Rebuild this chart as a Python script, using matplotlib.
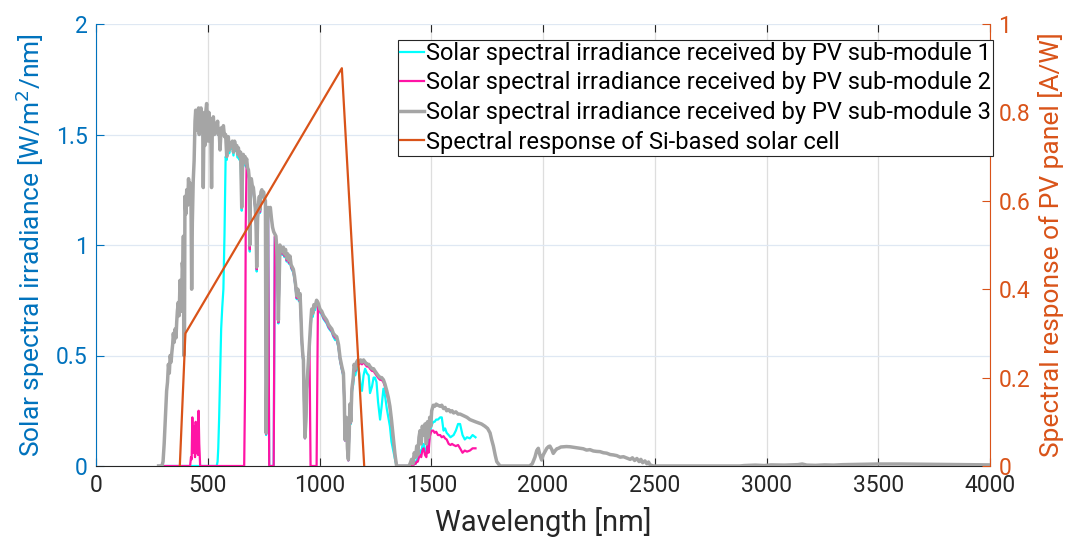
import matplotlib
matplotlib.use("Agg")
import matplotlib.pyplot as plt
import numpy as np

plt.rcParams["font.family"] = ["Roboto", "DejaVu Sans"]

# ---------------------------------------------------------------------------
# Spectral data (wavelength in nm, irradiance in W/m^2/nm)
# ---------------------------------------------------------------------------
wavelength_nm = [
    280, 295, 300, 305, 309, 313, 316, 320, 324, 328,
    332, 336, 339, 343, 346, 350, 354, 358, 361, 364,
    368, 372, 376, 380, 383, 386, 389, 391, 393, 396,
    398, 402, 406, 410, 414,
    418, 421, 425, 428, 431, 435, 439, 443, 446, 450, 453, 456, 459, 462,
    466, 470, 474, 477, 480, 483, 487, 491, 495, 498,
    502, 505, 509, 513, 517, 520, 525, 530, 535, 540,
    544, 547, 551, 555, 560, 565, 570, 575, 580, 585,
    588, 592, 596, 600, 605, 610, 615, 620, 625, 630,
    634, 637, 642, 647, 652, 656, 659, 663,
    667, 670, 674, 678, 682, 686, 688, 691, 695, 699,
    704, 708, 712, 716, 719, 723, 727, 731, 734, 738,
    742, 746, 750, 754, 758, 761, 764, 767, 770,
    775, 780, 785, 790, 795,
    800, 805, 808, 812, 816, 820, 823, 828, 833, 838,
    843, 848, 853, 858, 863, 868, 873, 878, 883, 888,
    893, 898, 903, 908, 913, 917, 920, 924, 928, 931,
    935, 939, 943, 947, 950, 955,
    960, 965, 970, 975, 980, 987,
    993, 1002, 1010, 1018, 1025, 1032, 1040, 1047, 1055, 1062,
    1070, 1077, 1085, 1092, 1100, 1107, 1111, 1114, 1120, 1125,
    1129, 1133, 1136, 1140, 1145, 1151, 1155, 1160, 1166, 1172,
    1178, 1184, 1190, 1197, 1204, 1212, 1220, 1226, 1235, 1242,
    1248, 1255, 1262, 1271, 1278, 1286, 1293, 1301, 1308, 1315,
    1322, 1330, 1338, 1345,
    1400, 1405, 1412, 1418, 1424, 1430, 1435, 1440, 1445, 1450,
    1455, 1460, 1466, 1472, 1478, 1483, 1488, 1493, 1498,
    1502, 1509, 1515, 1522, 1530, 1540, 1547, 1555, 1562, 1569,
    1578, 1586, 1593, 1600, 1610, 1620, 1629, 1640, 1650, 1660,
    1673, 1685, 1698,
]

module3_irr = [
    0.0, 0.0, 0.02, 0.10, 0.19, 0.28, 0.34, 0.38, 0.46, 0.42,
    0.50, 0.47, 0.51, 0.55, 0.60, 0.56, 0.62, 0.58, 0.65, 0.70,
    0.74, 0.68, 0.84, 0.78, 0.70, 0.92, 0.88, 1.04, 0.50, 0.62,
    1.22, 1.14, 1.25, 1.18, 1.30,
    1.22, 1.28, 1.20, 0.80, 1.10, 1.29, 1.38, 1.56, 1.61, 1.52, 1.60, 1.55, 1.62, 1.50,
    1.58, 1.62, 1.54, 1.60, 1.26, 1.55, 1.45, 1.60, 1.64, 1.56,
    1.47, 1.60, 1.52, 1.57, 1.26, 1.50, 1.58, 1.50, 1.55, 1.52,
    1.56, 1.50, 1.52, 1.43, 1.53, 1.50, 1.54, 1.49, 1.50, 1.40,
    1.48, 1.49, 1.43, 1.46, 1.45, 1.47, 1.42, 1.47, 1.44, 1.45,
    1.41, 1.44, 1.40, 1.42, 1.17, 1.36, 1.41, 1.38,
    1.40, 1.37, 1.39, 1.35, 1.34, 1.30, 1.00, 1.28, 1.30, 1.27,
    1.26, 1.22, 1.18, 1.10, 0.90, 1.12, 1.18, 1.22, 1.16, 1.24,
    1.25, 1.23, 1.24, 1.21, 1.20, 0.15, 0.40, 1.10, 1.17,
    1.16, 1.17, 1.12, 1.08, 1.06,
    1.05, 1.04, 1.00, 0.90, 0.66, 0.86, 1.00, 0.98, 0.97, 0.99,
    0.96, 0.98, 0.94, 0.96, 0.93, 0.95, 0.91, 0.90, 0.89, 0.86,
    0.82, 0.77, 0.80, 0.76, 0.78, 0.68, 0.59, 0.52, 0.48, 0.30,
    0.13, 0.20, 0.35, 0.42, 0.47, 0.56,
    0.64, 0.71, 0.69, 0.73, 0.72, 0.75,
    0.74, 0.71, 0.70, 0.68, 0.67, 0.66, 0.64, 0.63, 0.62, 0.60,
    0.59, 0.585, 0.55, 0.49, 0.45, 0.42, 0.30, 0.12, 0.22, 0.08,
    0.03, 0.15, 0.28, 0.20, 0.35, 0.40, 0.46, 0.44, 0.47, 0.48,
    0.47, 0.48, 0.47, 0.48, 0.47, 0.46, 0.46, 0.45, 0.44, 0.44,
    0.43, 0.42, 0.41, 0.40, 0.40, 0.39, 0.37, 0.34, 0.31, 0.27,
    0.21, 0.13, 0.05, 0.0,
    0.0, 0.01, 0.03, 0.01, 0.06, 0.04, 0.09, 0.05, 0.13, 0.16,
    0.10, 0.18, 0.14, 0.19, 0.10, 0.20, 0.13, 0.22, 0.18,
    0.25, 0.275, 0.27, 0.28, 0.275, 0.27, 0.275, 0.26, 0.265, 0.25,
    0.255, 0.245, 0.25, 0.24, 0.245, 0.235, 0.235, 0.23, 0.225, 0.22,
    0.21, 0.205, 0.20,
]

module1_irr = [
    0.0, 0.0, 0.0, 0.0, 0.0, 0.0, 0.0, 0.0, 0.0, 0.0,
    0.0, 0.0, 0.0, 0.0, 0.0, 0.0, 0.0, 0.0, 0.0, 0.0,
    0.0, 0.0, 0.0, 0.0, 0.0, 0.0, 0.0, 0.0, 0.0, 0.0,
    0.0, 0.0, 0.0, 0.0, 0.0,
    0.0, 0.0, 0.0, 0.0, 0.0, 0.0, 0.0, 0.0, 0.0, 0.0, 0.0, 0.0, 0.0, 0.0,
    0.0, 0.0, 0.0, 0.0, 0.0, 0.0, 0.0, 0.0, 0.0, 0.0,
    0.0, 0.0, 0.0, 0.0, 0.0, 0.0, 0.0, 0.0, 0.0, 0.0,
    0.02, 0.08, 0.22, 0.40, 0.62, 0.72, 0.80, 1.05, 1.40, 1.385,
    1.465, 1.475, 1.415, 1.445, 1.435, 1.455, 1.405, 1.455, 1.425, 1.435,
    1.395, 1.425, 1.385, 1.405, 1.155, 1.345, 1.395, 1.365,
    1.385, 1.355, 1.375, 1.335, 1.325, 1.285, 0.97, 1.265, 1.285, 1.255,
    1.245, 1.205, 1.165, 1.085, 0.88, 1.105, 1.165, 1.205, 1.145, 1.225,
    1.235, 1.215, 1.225, 1.195, 1.185, 0.14, 0.385, 1.085, 1.155,
    0.0, 0.0, 0.0, 0.0, 0.0,
    1.035, 1.025, 0.985, 0.885, 0.645, 0.845, 0.985, 0.965, 0.955, 0.975,
    0.945, 0.965, 0.925, 0.945, 0.915, 0.935, 0.895, 0.885, 0.875, 0.845,
    0.805, 0.755, 0.785, 0.745, 0.765, 0.665, 0.575, 0.505, 0.465, 0.29,
    0.125, 0.19, 0.335, 0.405, 0.455, 0.545,
    0.625, 0.695, 0.675, 0.715, 0.705, 0.735,
    0.725, 0.695, 0.685, 0.665, 0.655, 0.645, 0.625, 0.615, 0.605, 0.585,
    0.57, 0.57, 0.535, 0.475, 0.435, 0.405, 0.29, 0.115, 0.21, 0.07,
    0.025, 0.14, 0.265, 0.19, 0.335, 0.37, 0.42, 0.41, 0.44, 0.45,
    0.42, 0.36, 0.34, 0.41, 0.44, 0.42, 0.41, 0.33, 0.36, 0.40,
    0.40, 0.38, 0.29, 0.21, 0.27, 0.35, 0.32, 0.26, 0.22, 0.18,
    0.11, 0.07, 0.03, 0.0,
    0.0, 0.0, 0.01, 0.0, 0.02, 0.01, 0.03, 0.03, 0.05, 0.07,
    0.06, 0.09, 0.10, 0.07, 0.06, 0.11, 0.08, 0.16, 0.17,
    0.185, 0.20, 0.20, 0.21, 0.21, 0.22, 0.22, 0.16, 0.17, 0.15,
    0.14, 0.13, 0.135, 0.14, 0.16, 0.19, 0.19, 0.14, 0.12, 0.13,
    0.125, 0.14, 0.13,
]

module2_irr = [
    0.0, 0.0, 0.0, 0.0, 0.0, 0.0, 0.0, 0.0, 0.0, 0.0,
    0.0, 0.0, 0.0, 0.0, 0.0, 0.0, 0.0, 0.0, 0.0, 0.0,
    0.0, 0.0, 0.0, 0.0, 0.0, 0.0, 0.0, 0.0, 0.0, 0.0,
    0.0, 0.0, 0.0, 0.0, 0.0,
    0.0, 0.0, 0.04, 0.03, 0.22, 0.06, 0.18, 0.04, 0.20, 0.06, 0.14, 0.05, 0.25, 0.10,
    0.0, 0.0, 0.0, 0.0, 0.0, 0.0, 0.0, 0.0, 0.0, 0.0,
    0.0, 0.0, 0.0, 0.0, 0.0, 0.0, 0.0, 0.0, 0.0, 0.0,
    0.0, 0.0, 0.0, 0.0, 0.0, 0.0, 0.0, 0.0, 0.0, 0.0,
    0.0, 0.0, 0.0, 0.0, 0.0, 0.0, 0.0, 0.0, 0.0, 0.0,
    0.0, 0.0, 0.0, 0.0, 0.0, 0.0, 0.0, 0.0,
    0.35, 1.10, 1.38, 1.34, 1.33, 1.29, 0.98, 1.27, 1.29, 1.26,
    1.25, 1.21, 1.17, 1.09, 0.89, 1.11, 1.17, 1.21, 1.15, 1.23,
    1.24, 1.22, 1.23, 1.20, 1.19, 0.145, 0.39, 1.09, 1.16,
    0.0, 0.0, 0.0, 0.0, 0.0,
    1.04, 1.03, 0.99, 0.89, 0.65, 0.85, 0.99, 0.97, 0.96, 0.98,
    0.95, 0.97, 0.93, 0.95, 0.92, 0.94, 0.90, 0.89, 0.88, 0.85,
    0.81, 0.76, 0.79, 0.75, 0.77, 0.67, 0.58, 0.51, 0.47, 0.295,
    0.125, 0.195, 0.34, 0.41, 0.46, 0.55,
    0.0, 0.0, 0.0, 0.0, 0.0, 0.0,
    0.73, 0.70, 0.69, 0.67, 0.66, 0.65, 0.63, 0.62, 0.61, 0.59,
    0.58, 0.575, 0.54, 0.48, 0.44, 0.41, 0.295, 0.115, 0.215, 0.075,
    0.025, 0.145, 0.275, 0.195, 0.345, 0.39, 0.45, 0.43, 0.46, 0.47,
    0.46, 0.47, 0.46, 0.47, 0.46, 0.45, 0.45, 0.44, 0.43, 0.43,
    0.42, 0.41, 0.40, 0.39, 0.39, 0.38, 0.36, 0.33, 0.30, 0.26,
    0.20, 0.12, 0.05, 0.0,
    0.0, 0.0, 0.01, 0.0, 0.01, 0.01, 0.02, 0.02, 0.04, 0.05,
    0.04, 0.07, 0.08, 0.05, 0.04, 0.09, 0.06, 0.13, 0.15,
    0.16, 0.16, 0.15, 0.155, 0.14, 0.14, 0.13, 0.135, 0.125, 0.12,
    0.10, 0.095, 0.10, 0.095, 0.09, 0.095, 0.08, 0.06, 0.07, 0.065,
    0.07, 0.08, 0.08,
]

# Sub-module 3 continues into the infrared
tail_wavelength_nm = [
    1711, 1725, 1740, 1752, 1763, 1770, 1778, 1786, 1793, 1808,
    1940, 1952, 1960, 1964, 1972, 1979, 1986, 1994, 2001, 2009,
    2017, 2025, 2031, 2039, 2046, 2055, 2062, 2069, 2080, 2091,
    2105, 2121, 2140, 2155, 2166, 2180, 2195, 2210, 2225, 2240,
    2255, 2270, 2285, 2300, 2315, 2330, 2345, 2360, 2375, 2390,
    2400, 2410, 2420, 2430, 2438, 2446, 2456, 2465, 2472, 2479,
    2494, 2880, 2900, 2950, 2990, 3020, 3080, 3140, 3160, 3180,
    3220, 3260, 3300, 3340, 3400, 3450, 3500, 3600, 3700, 3800,
    3900, 4000,
]
tail_module3_irr = [
    0.195, 0.19, 0.18, 0.17, 0.15, 0.12, 0.09, 0.05, 0.02, 0.0,
    0.0, 0.01, 0.03, 0.04, 0.07, 0.08, 0.05, 0.027, 0.05, 0.065,
    0.08, 0.088, 0.09, 0.075, 0.057, 0.07, 0.078, 0.08, 0.086, 0.087,
    0.088, 0.087, 0.084, 0.082, 0.08, 0.078, 0.072, 0.074, 0.068, 0.066,
    0.065, 0.06, 0.058, 0.052, 0.05, 0.047, 0.04, 0.042, 0.036, 0.03,
    0.037, 0.025, 0.034, 0.02, 0.03, 0.015, 0.023, 0.01, 0.018, 0.005,
    0.0, 0.0, 0.002, 0.004, 0.002, 0.005, 0.004, 0.006, 0.009, 0.004,
    0.003, 0.005, 0.004, 0.006, 0.007, 0.008, 0.009, 0.009, 0.008, 0.007,
    0.006, 0.005,
]

# Spectral response of a Si-based cell (A/W)
response_wavelength_nm = [375, 400, 1100, 1200]
response_aw = [0.0, 0.3, 0.9, 0.0]

legend_labels = [
    "Solar spectral irradiance received by PV sub-module 1",
    "Solar spectral irradiance received by PV sub-module 2",
    "Solar spectral irradiance received by PV sub-module 3",
    "Spectral response of Si-based solar cell",
]
x_ticks = [0, 500, 1000, 1500, 2000, 2500, 3000, 3500, 4000]
left_ticks = [0, 0.5, 1, 1.5, 2]
left_ticklabels = ["0", "0.5", "1", "1.5", "2"]
right_ticks = [0, 0.2, 0.4, 0.6, 0.8, 1]
right_ticklabels = ["0", "0.2", "0.4", "0.6", "0.8", "1"]

# ---------------------------------------------------------------------------
BLUE = "#0072BD"
ORANGE = "#D95319"
DARK = "#262626"
CYAN = "#00FFFF"
PINK = "#FF14A5"
GRAY = "#A5A5A5"

W, H = 1068, 540
fig = plt.figure(figsize=(W / 100, H / 100), dpi=100)
ax = fig.add_axes([96 / W, 74 / H, 894 / W, 442 / H])
ax2 = ax.twinx()

wl = np.asarray(wavelength_nm, dtype=float)
wl3 = np.concatenate([wl, tail_wavelength_nm])
irr3 = np.concatenate([module3_irr, tail_module3_irr])

l1, = ax.plot(wl, module1_irr, color=CYAN, lw=1.6, zorder=3)
l2, = ax.plot(wl, module2_irr, color=PINK, lw=1.6, zorder=4)
l3, = ax.plot(wl3, irr3, color=GRAY, lw=2.5, zorder=5)
l4, = ax2.plot(response_wavelength_nm, response_aw, color=ORANGE, lw=1.6)

ax.set_xlim(0, 4000)
ax.set_ylim(0, 2)
ax2.set_ylim(0, 1)

ax.set_xticks(x_ticks)
ax.set_yticks(left_ticks)
ax.set_yticklabels(left_ticklabels)
ax2.set_yticks(right_ticks)
ax2.set_yticklabels(right_ticklabels)

ax.set_axisbelow(True)
ax.xaxis.grid(True, color="#dedede", lw=0.9)
ax.yaxis.grid(True, color="#dfe8f3", lw=0.9)

for a in (ax, ax2):
    a.spines["top"].set_visible(False)
ax.spines["bottom"].set_color(DARK)
ax.spines["left"].set_color(BLUE)
ax.spines["right"].set_visible(False)
ax2.spines["left"].set_visible(False)
ax2.spines["bottom"].set_visible(False)
ax2.spines["right"].set_color(ORANGE)

tick_fs = 16.5
ax.tick_params(axis="x", direction="in", top=True, length=6, width=0.8,
               colors=DARK, labelsize=tick_fs, pad=6)
ax.tick_params(axis="y", direction="in", length=6, width=0.8,
               colors=BLUE, labelsize=tick_fs, pad=6)
ax2.tick_params(axis="y", direction="in", length=6, width=0.8,
                colors=ORANGE, labelsize=tick_fs, pad=6)

label_fs = 19
ax.set_xlabel("Wavelength [nm]", fontsize=21, color=DARK, labelpad=7)
ax.set_ylabel("Solar spectral irradiance [W/m$^2$/nm]", fontsize=label_fs,
              color=BLUE, labelpad=6)
ax2.set_ylabel("Spectral response of PV panel [A/W]", fontsize=label_fs,
               color=ORANGE, labelpad=6)

leg = ax2.legend([l1, l2, l3, l4], legend_labels, loc="upper left",
                 bbox_to_anchor=(398 / W, 1 - 40 / H),
                 bbox_transform=fig.transFigure, fontsize=17,
                 handlelength=1.0, handletextpad=0.12, labelspacing=0.28,
                 borderpad=0.08, borderaxespad=0, fancybox=False,
                 framealpha=1, edgecolor=DARK)
leg.get_frame().set_linewidth(0.8)

fig.savefig("out.png", dpi=100, facecolor="white")
